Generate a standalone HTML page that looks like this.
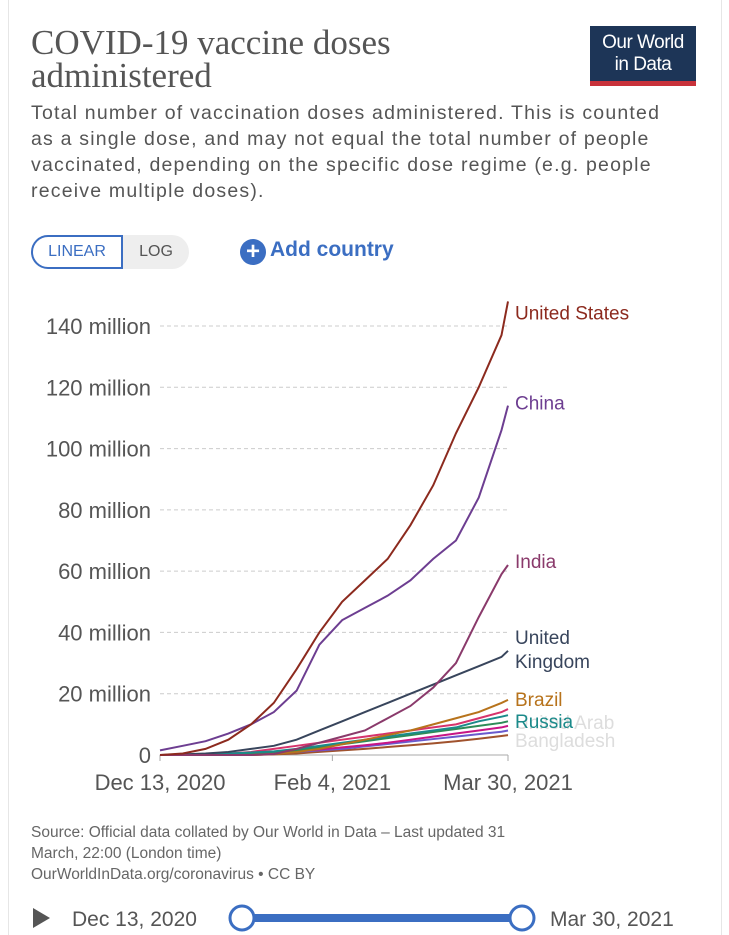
<!DOCTYPE html>
<html><head><meta charset="utf-8">
<style>
body{margin:0;width:729px;height:935px;background:#fff;font-family:"Liberation Sans",sans-serif;overflow:hidden;position:relative}
.card{position:absolute;left:8px;top:0;width:712px;height:935px;border-left:1px solid #e6e6e6;border-right:1px solid #e6e6e6}
.t{position:absolute;left:31px;top:26px;font-family:"Liberation Serif",serif;font-size:35px;line-height:33px;color:#555;}
.sub{position:absolute;left:31px;top:100px;font-size:19.5px;line-height:26px;color:#555;white-space:nowrap;letter-spacing:1.2px}
.logo{position:absolute;left:590px;top:26px;width:106px;height:60px;background:#1d3557;color:#fff;font-size:19px;line-height:22px;text-align:center;padding-top:6px;box-sizing:border-box;border-bottom:5px solid #c8323a;letter-spacing:-0.5px}
.tog{position:absolute;left:31px;top:235px;height:34px;width:158px;border-radius:17px;background:#eee;font-size:16px;color:#555}
.lin{position:absolute;left:0;top:0;width:92px;height:34px;border:2px solid #3b6ec2;border-radius:17px 0 0 17px;background:#fff;box-sizing:border-box;text-align:center;line-height:30px;color:#3b6ec2}
.log{position:absolute;left:92px;width:66px;text-align:center;line-height:34px}
.add{position:absolute;left:240px;top:238px;font-size:21px;color:#3b6ec2;font-weight:bold}
.add span{display:inline-block;width:26px;height:26px;border-radius:13px;background:#3b6ec2;color:#fff;text-align:center;line-height:26px;font-size:24px;margin-right:4px;vertical-align:-3px}
.src{position:absolute;left:31px;top:822px;font-size:15.5px;line-height:21px;color:#666;white-space:nowrap}
svg{position:absolute;left:0;top:0}
</style></head><body>
<div class="card"></div>
<div class="t">COVID-19 vaccine doses<br>administered</div>
<div class="logo">Our World<br>in Data</div>
<div class="sub">Total number of vaccination doses administered. This is counted<br>as a single dose, and may not equal the total number of people<br>vaccinated, depending on the specific dose regime (e.g. people<br>receive multiple doses).</div>
<div class="tog"><div class="lin">LINEAR</div><div class="log">LOG</div></div>
<div class="add"><span>+</span>Add country</div>
<svg id="c" width="729" height="935"></svg>
<div class="src">Source: Official data collated by Our World in Data – Last updated 31<br>March, 22:00 (London time)<br>OurWorldInData.org/coronavirus • CC BY</div>
<script>
const days=[0,7,14,21,28,35,42,49,56,63,70,77,84,91,98,105,107];
const yTicks=[0,20,40,60,80,100,120,140];
const xTickDays=[0,53,107];
const xTickLabels=["Dec 13, 2020","Feb 4, 2021","Mar 30, 2021"];
const usVals=[0,0.5,2,5,10,17,28,40,50,57,64,75,88,105,120,137,148];
const chinaVals=[1.5,3,4.5,7,10,14,21,36,44,48,52,57,64,70,84,106,114];
const indiaVals=[0,0,0,0,0,0.3,2,4,6,8,12,16,22,30,45,59,62];
const ukVals=[0,0.2,0.5,1,2,3,5,8,11,14,17,20,23,26,29,32,34];
const brazilVals=[0,0,0,0,0,0.3,1,2,3.5,5,6.5,8,10,12,14,17,18];
const russiaVals=[0,0,0.2,0.5,0.8,1.2,2,3,4,5,6,7,8,9,11,12.5,13];
const other1=[0,0,0.2,0.5,1,2,3,4,5,6,7,8,9,10,12,14,15];
const other2=[0,0,0,0.3,0.6,1,1.5,2.5,3.5,4.5,5.5,6.5,7.5,8.5,9.5,10.5,11];
const other3=[0,0,0,0.2,0.4,0.8,1.2,1.8,2.5,3.2,4,5,6,7,8,9,9.5];
const other4=[0,0,0,0,0.2,0.5,1,1.5,2,2.8,3.6,4.4,5.2,6,6.8,7.6,8];
const other5=[0,0,0,0,0,0.2,0.5,1,1.5,2,2.6,3.2,3.8,4.5,5.3,6.2,6.5];
const names=["United States","China","India","United Kingdom","Brazil","Russia"];
const X=d=>160+d*(508-160)/107;
const Y=v=>755-v*(755-326)/140;
const svg=document.getElementById('c');const NS="http://www.w3.org/2000/svg";
function mk(t,a){const e=document.createElementNS(NS,t);for(const k in a)e.setAttribute(k,a[k]);svg.appendChild(e);return e;}
yTicks.forEach(v=>{
 if(v>0){const l=mk('line',{x1:160,x2:508,y1:Y(v),y2:Y(v),stroke:'#ccc','stroke-dasharray':'4,3'});
 
 }
 const t=mk('text',{x:151,y:Y(v)+8,'text-anchor':'end','font-size':22,fill:'#555','font-family':'Liberation Sans'});
 t.textContent=v===0?'0':v+' million';
 
 
});
const ax=mk('line',{x1:160,x2:508,y1:755,y2:755,stroke:'#aaa'});


xTickDays.forEach((d,i)=>{
 const tk=mk('line',{x1:X(d),x2:X(d),y1:755,y2:761,stroke:'#aaa'});
 
 
 const t=mk('text',{x:X(d),y:790,'text-anchor':'middle','font-size':22,fill:'#555','font-family':'Liberation Sans'});
 t.textContent=xTickLabels[i];
 
 
});
const series=[[other5,'#a0522d'],[other4,'#6a5acd'],[other3,'#c71585'],[other2,'#2e8b57'],[other1,'#d6336c'],[russiaVals,'#1b8a8a'],[brazilVals,'#b7731c'],[ukVals,'#38455c'],[indiaVals,'#8a3a6b'],[chinaVals,'#6d3e91'],[usVals,'#8c2a1e']];
series.forEach(([vals,col])=>{
 const p=mk('polyline',{points:vals.map((v,i)=>X(days[i])+','+Y(v)).join(' '),fill:'none',stroke:col,'stroke-width':2});
 
 
});
const lastVals=[usVals,chinaVals,indiaVals,ukVals,brazilVals,russiaVals].map(a=>a[a.length-1]);
const lcol=['#8c2a1e','#6d3e91','#8a3a6b','#38455c','#b7731c','#1b8a8a'];
const loff=[18,4,3,-7,6,13];
const ghost=mk('text',{x:515,y:729,'font-size':19,fill:'#ddd','font-family':'Liberation Sans'});ghost.textContent='United Arab';


const ghost2=mk('text',{x:515,y:747,'font-size':19,fill:'#ddd','font-family':'Liberation Sans'});ghost2.textContent='Bangladesh';


names.forEach((n,i)=>{
 const y=Y(lastVals[i])+loff[i];
 const t=mk('text',{x:515,y:y,'font-size':19,fill:lcol[i],'font-family':'Liberation Sans'});
 if(n==='United Kingdom'){t.innerHTML='<tspan x="515">United</tspan><tspan x="515" dy="24">Kingdom</tspan>';t.setAttribute('fill','#38455c');}
 else t.textContent=n;
 
 
});
const pl=mk('polygon',{points:'33,908 33,928 50,918',fill:'#555'});


const tl1=mk('text',{x:72,y:926,'font-size':21,fill:'#555','font-family':'Liberation Sans'});tl1.textContent='Dec 13, 2020';


const bar=mk('rect',{x:242,y:914,width:280,height:8,fill:'#3b6ec2',rx:4});


[242,522].forEach(cx=>{const h=mk('circle',{cx:cx,cy:918,r:12,fill:'#fff',stroke:'#3b6ec2','stroke-width':3});
 
 });
const tl2=mk('text',{x:550,y:926,'font-size':21,fill:'#555','font-family':'Liberation Sans'});tl2.textContent='Mar 30, 2021';


</script>
</body></html>
